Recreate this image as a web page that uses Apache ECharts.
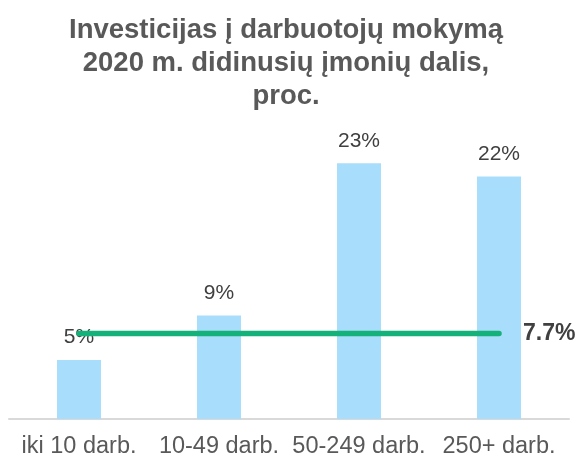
<!DOCTYPE html>
<html>
<head>
<meta charset="utf-8">
<script src="https://cdn.jsdelivr.net/npm/echarts@6/dist/echarts.min.js"></script>
<style>
  html, body { margin: 0; padding: 0; background: #fff; }
  #chart { width: 578px; height: 459px; }
</style>
</head>
<body>
<div id="chart"></div>
<script>
// duomenys
var categories = ['iki 10 darb.', '10-49 darb.', '50-249 darb.', '250+ darb.'];
var shares = [5.3, 9.3, 23.0, 21.8];
var average = 7.7;
var averageLine = [average, average, average, average];

var chart = echarts.init(document.getElementById('chart'));
chart.setOption({
    animation: false,
    title: {
        text: 'Investicijas į darbuotojų mokymą\n2020 m. didinusių įmonių dalis,\nproc.',
        left: 281,
        top: 9,
        textAlign: 'center',
        textStyle: {
            fontFamily: 'Liberation Sans',
            fontSize: 27.5,
            fontWeight: 'bold',
            color: '#595959',
            lineHeight: 33
        }
    },
    grid: {
        left: 9,
        right: 9,
        top: 141,
        bottom: 38
    },
    xAxis: {
        type: 'category',
        data: categories,
        axisLine: {lineStyle: {color: '#d9d9d9', width: 2}},
        axisTick: {show: false},
        axisLabel: {
            fontFamily: 'Liberation Sans',
            fontSize: 23.5,
            color: '#595959',
            margin: 16,
            interval: 0
        }
    },
    yAxis: {
        type: 'value',
        min: 0,
        max: 25,
        show: false,
        splitLine: {show: false}
    },
    series: [
        {
            type: 'bar',
            data: shares,
            barWidth: 44,
            itemStyle: {color: '#a8ddfb'},
            label: {
                show: true,
                position: 'top',
                distance: 12,
                fontFamily: 'Liberation Sans',
                fontSize: 21,
                color: '#404040',
                formatter: function (p) {
                    return Math.round(p.value) + '%';
                }
            }
        },
        {
            type: 'line',
            data: averageLine,
            symbol: 'none',
            lineStyle: {color: '#14b27a', width: 5.5, cap: 'round'},
            z: 3,
            endLabel: {
                show: true,
                distance: 24,
                fontFamily: 'Liberation Sans',
                fontSize: 23,
                fontWeight: 'bold',
                color: '#404040',
                formatter: function (p) {
                    return p.value + '%';
                }
            }
        }
    ]
});
</script>
</body>
</html>
